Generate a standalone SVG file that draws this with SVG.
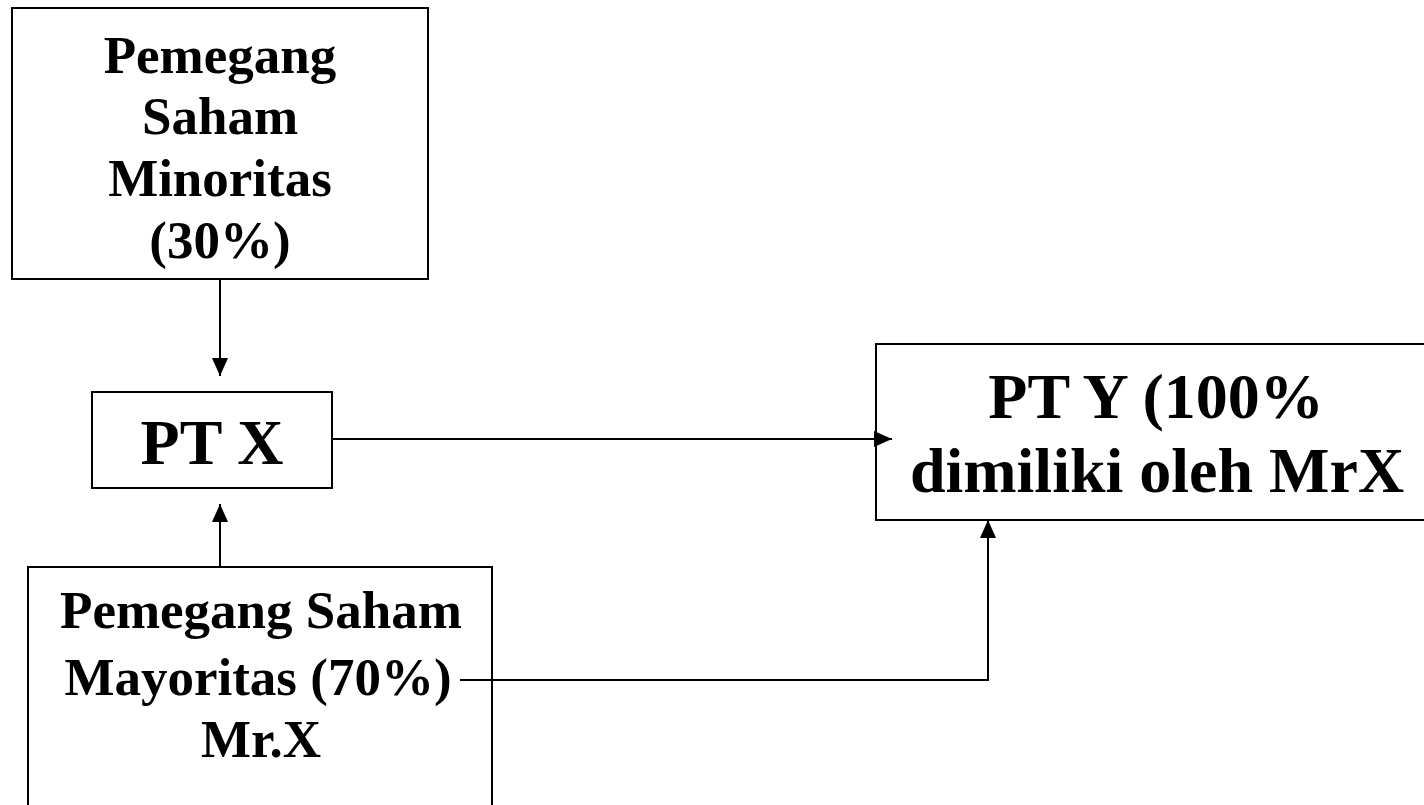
<svg xmlns="http://www.w3.org/2000/svg" width="1424" height="805" viewBox="0 0 1424 805">
<style>
.box{fill:#fff;stroke:#000;stroke-width:2}
.t{font-family:"Liberation Serif","Times New Roman",serif;font-weight:bold;fill:#000;text-anchor:middle}
.s{font-size:53px}
.l{font-size:64px}
.c{fill:none;stroke:#000;stroke-width:2}
</style>
<defs>
<marker id="ah" viewBox="0 0 18 16" refX="18" refY="8" markerWidth="18" markerHeight="16" markerUnits="userSpaceOnUse" orient="auto">
<path d="M0,0 L18,8 L0,16 Z" fill="#000"/>
</marker>
</defs>
<rect width="1424" height="805" fill="#fff"/>
<g id="minoritas">
<rect class="box" x="12" y="8" width="416" height="271"/>
<text class="t s" x="220" y="73">Pemegang</text>
<text class="t s" x="220" y="134">Saham</text>
<text class="t s" x="220" y="196">Minoritas</text>
<text class="t s" x="220" y="258">(30%)</text>
</g>
<g id="ptx">
<rect class="box" x="92" y="392" width="240" height="96"/>
<text class="t l" x="212" y="464">PT X</text>
</g>
<g id="pty">
<rect class="box" x="876" y="344" width="560" height="176"/>
<text class="t l" x="1156" y="418">PT Y (100%</text>
<text class="t l" x="1157" y="492">dimiliki oleh MrX</text>
</g>
<g id="mayoritas">
<rect class="box" x="28" y="567" width="464" height="250"/>
<text class="t s" x="261" y="628">Pemegang Saham</text>
<text class="t s" x="258" y="695">Mayoritas (70%)</text>
<text class="t s" x="261" y="757">Mr.X</text>
</g>
<g id="connectors">
<line class="c" x1="220" y1="279" x2="220" y2="376" marker-end="url(#ah)"/>
<line class="c" x1="220" y1="567" x2="220" y2="504" marker-end="url(#ah)"/>
<line class="c" x1="333" y1="439" x2="892" y2="439" marker-end="url(#ah)"/>
<polyline class="c" points="460,680 988,680 988,520" marker-end="url(#ah)"/>
</g>
</svg>
